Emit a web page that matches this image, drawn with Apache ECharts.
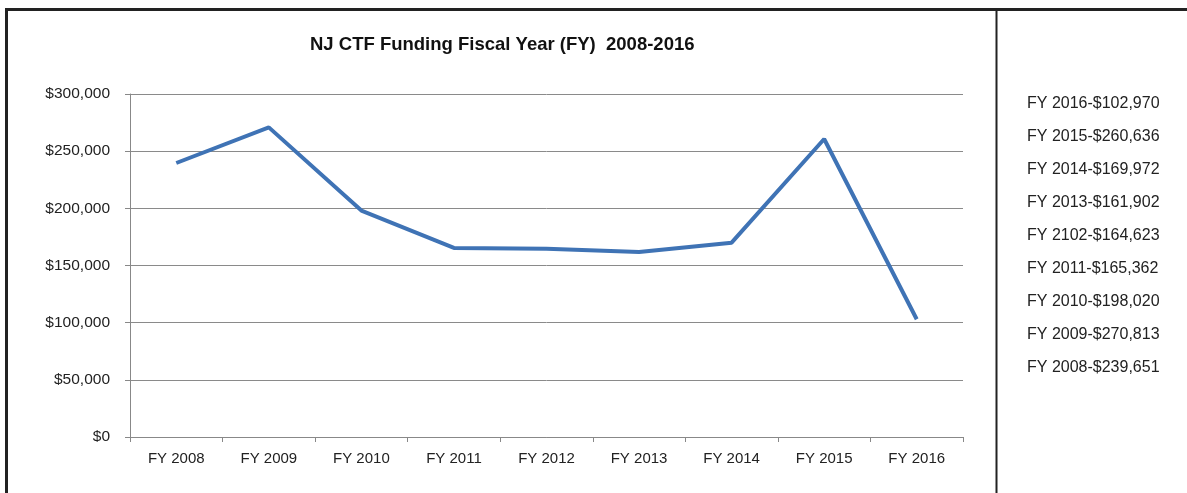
<!DOCTYPE html>
<html>
<head>
<meta charset="utf-8">
<script src="https://cdn.jsdelivr.net/npm/echarts@6/dist/echarts.min.js"></script>
<style>
  html, body { margin: 0; padding: 0; background: #fff; }
  #chart { width: 1187px; height: 493px; }
</style>
</head>
<body>
<div id="chart"></div>
<script>
const categories = ["FY 2008", "FY 2009", "FY 2010", "FY 2011", "FY 2012", "FY 2013", "FY 2014", "FY 2015", "FY 2016"];
const funding = [239651, 270813, 198020, 165362, 164623, 161902, 169972, 260636, 102970];
// side list as printed in the source (incl. its "2102" typo)
const listYears = ["FY 2016", "FY 2015", "FY 2014", "FY 2013", "FY 2102", "FY 2011", "FY 2010", "FY 2009", "FY 2008"];
const listValues = [102970, 260636, 169972, 161902, 164623, 165362, 198020, 270813, 239651];

const fmt = v => "$" + v.toLocaleString("en-US");
const listText = listYears.map((y, i) => y + "-" + fmt(listValues[i])).join("\n");

const chart = echarts.init(document.getElementById("chart"), null, { renderer: "canvas" });

const option = {
  animation: false,
  textStyle: { fontFamily: "Liberation Sans, Arial, sans-serif" },
  title: [
    {
      text: "NJ CTF Funding Fiscal Year (FY)  2008-2016",
      left: 305,
      top: 30,
      textStyle: { fontSize: 18.5, fontWeight: "bold", color: "#111", fontFamily: "Liberation Sans, Arial, sans-serif" },
    },
    {
      text: listText,
      left: 1022,
      top: 82,
      textStyle: { fontSize: 16, fontWeight: "normal", color: "#222", lineHeight: 33, fontFamily: "Liberation Sans, Arial, sans-serif" },
    },
  ],
  graphic: [
    {
      type: "rect",
      silent: true,
      shape: { x: 6.5, y: 9.5, width: 1300, height: 600 },
      style: { fill: "none", stroke: "#222", lineWidth: 3 },
    },
    {
      type: "line",
      silent: true,
      shape: { x1: 996.5, y1: 10, x2: 996.5, y2: 493 },
      style: { stroke: "#222", lineWidth: 2 },
    },
  ],
  grid: { left: 130, right: 224, top: 94, bottom: 56 },
  xAxis: {
    type: "category",
    data: categories,
    boundaryGap: true,
    axisLine: { lineStyle: { color: "#888", width: 1 } },
    axisTick: { show: true, length: 5, lineStyle: { color: "#888" } },
    axisLabel: { color: "#222", fontSize: 15, margin: 14 },
  },
  yAxis: {
    type: "value",
    min: 0,
    max: 300000,
    interval: 50000,
    axisLine: { show: true, lineStyle: { color: "#888", width: 1 } },
    axisTick: { show: true, length: 5, lineStyle: { color: "#888" } },
    axisLabel: { color: "#222", fontSize: 15.5, margin: 20, formatter: fmt },
    splitLine: { lineStyle: { color: "#8a8a8a", width: 1 } },
  },
  series: [
    {
      type: "line",
      data: funding,
      showSymbol: false,
      lineStyle: { color: "#3f73b5", width: 4 },
    },
  ],
};

chart.setOption(option);
</script>
</body>
</html>
